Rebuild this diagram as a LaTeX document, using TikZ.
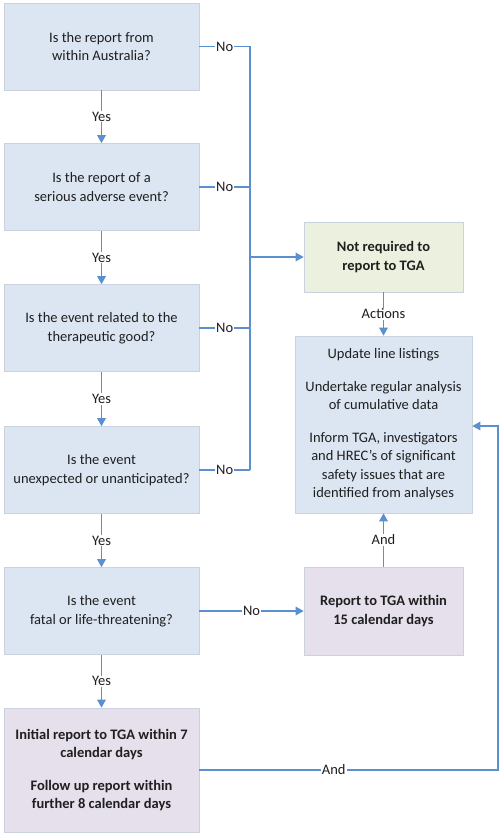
\documentclass[tikz,border=0pt]{standalone}
\usepackage{fontspec}
\setmainfont{Carlito}
\usetikzlibrary{arrows.meta,calc}
\definecolor{qblue}{HTML}{DCE6F2}
\definecolor{qgreen}{HTML}{EBF1DE}
\definecolor{qpurple}{HTML}{E5E0EC}
\definecolor{lineblue}{HTML}{5B8FCF}
\definecolor{boxedge}{HTML}{C9D2DD}
\definecolor{txt}{HTML}{1F1F1F}
\begin{document}
\begin{tikzpicture}[x=1pt,y=-1pt,
  box/.style={draw=boxedge,line width=0.6pt,fill=qblue,text=txt,align=center,
     inner sep=2pt,font=\fontsize{14.5}{18.5}\selectfont},
  qbox/.style={box,minimum width=195pt,minimum height=87pt},
  conn/.style={draw=lineblue,line width=1.4pt},
  arr/.style={conn,-{Triangle[length=8pt,width=8.5pt]}},
  lbl/.style={fill=white,text=txt,inner sep=1pt,font=\fontsize{14.5}{16}\selectfont}
]
\useasboundingbox (0,0) rectangle (500,840);
\node[qbox] (q1) at (101.5,46.5) {Is the report from\\within Australia?};
\node[qbox] (q2) at (101.5,187) {Is the report of a\\serious adverse event?};
\node[qbox] (q3) at (101.5,328) {Is the event related to the\\therapeutic good?};
\node[qbox] (q4) at (101.5,470) {Is the event\\unexpected or unanticipated?};
\node[qbox] (q5) at (101.5,611) {Is the event\\fatal or life-threatening?};
\node[box,fill=qpurple,minimum width=195pt,minimum height=124pt,font=\fontsize{14.5}{18.5}\selectfont\bfseries] (init) at (101.5,770)
  {Initial report to TGA within 7\\calendar days\\[14pt]Follow up report within\\further 8 calendar days};
\node[box,fill=qgreen,minimum width=159pt,minimum height=70pt,font=\fontsize{14.5}{18.5}\selectfont\bfseries] (notreq) at (383.5,257) {Not required to\\report to TGA};
\node[box,minimum width=177pt,minimum height=177pt] (act) at (383.5,424.5)
  {Update line listings\\[14pt]Undertake regular analysis\\of cumulative data\\[14pt]Inform TGA, investigators\\and HREC’s of significant\\safety issues that are\\identified from analyses};
\node[box,fill=qpurple,minimum width=159pt,minimum height=88pt,font=\fontsize{14.5}{18.5}\selectfont\bfseries] (rep) at (383.5,611) {Report to TGA within\\15 calendar days};
\coordinate (bus) at (250,0);
\coordinate (rx) at (498,0);
% Yes arrows
\draw[arr] (q1) -- node[lbl]{Yes} (q2);
\draw[arr] (q2) -- node[lbl]{Yes} (q3);
\draw[arr] (q3) -- node[lbl]{Yes} (q4);
\draw[arr] (q4) -- node[lbl]{Yes} (q5);
\draw[arr] (q5) -- node[lbl]{Yes} (init);
% No bus
\draw[conn] (q1.east) -- node[lbl]{No} (q1.east -| bus) -- (q4.east -| bus);
\draw[conn] (q2.east) -- node[lbl]{No} (q2.east -| bus);
\draw[conn] (q3.east) -- node[lbl]{No} (q3.east -| bus);
\draw[conn] (q4.east) -- node[lbl]{No} (q4.east -| bus);
\draw[arr] (notreq.west -| bus) -- (notreq.west);
\draw[arr] (q5) -- node[lbl]{No} (rep);
\draw[arr] (notreq) -- node[lbl]{Actions} (act);
\draw[arr] (rep) -- node[lbl]{And} (act);
\draw[arr] (init.east) -- node[lbl,pos=0.45]{And} (init.east -| rx) |- ($(act.east)+(0,1.5)$);
\end{tikzpicture}
\end{document}
